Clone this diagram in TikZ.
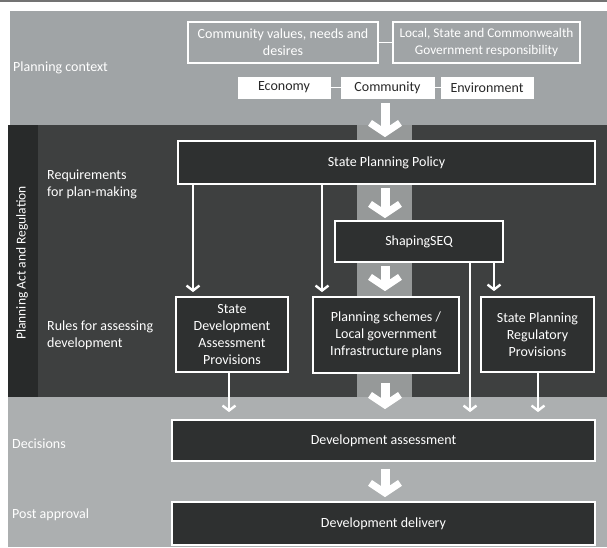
\documentclass[tikz,border=0pt]{standalone}
\usepackage{fontspec}
\setmainfont{Carlito}
\usetikzlibrary{arrows.meta,calc}
\definecolor{bandlight}{RGB}{160,164,166}
\definecolor{bandlow}{RGB}{172,175,176}
\definecolor{banddark}{RGB}{62,64,64}
\definecolor{stripdark}{RGB}{40,42,42}
\definecolor{stripmid}{RGB}{150,153,153}
\definecolor{boxdark}{RGB}{46,48,48}
\definecolor{txtdark}{RGB}{40,40,40}
\begin{document}
\begin{tikzpicture}[x=1pt,y=-1pt,
  font=\fontsize{14}{17}\selectfont,
  darkbox/.style={draw=white, fill=boxdark, line width=1.8pt, text=white, align=center, inner sep=0pt},
  lightbox/.style={draw=white, line width=1.2pt, text=white, align=center, inner sep=0pt},
  whitebox/.style={draw=white, fill=white, text=txtdark, inner sep=0pt},
  sidelabel/.style={text=white, align=left, anchor=west, inner sep=0pt},
  link/.style={draw=white, line width=1.2pt},
  thinarr/.style={draw=white, line width=2.8pt, -{Straight Barb[length=5pt,width=13pt,line width=2.4pt]}},
  bigarr/.style={draw=white, line width=9pt, -{Straight Barb[length=10pt,width=30pt,line width=7pt]}}
]
\useasboundingbox (0,0) rectangle (607,547);
\fill[white] (0,0) rectangle (607,547);
\fill[black!55] (0,0) rectangle (607,1.5);
\fill[bandlight] (10,11) rectangle (607,125);
\fill[banddark] (8,125) rectangle (607,397);
\fill[stripdark] (8,125) rectangle (38,397);
\fill[stripmid] (357,125) rectangle (412,397);
\fill[bandlow] (8,397) rectangle (607,547);

% side labels
\node[sidelabel] (lctx) at (13,68) {Planning context};
\node[sidelabel] (lreq) at (47,184) {Requirements\\for plan-making};
\node[sidelabel] (lrul) at (47,335) {Rules for assessing\\development};
\node[sidelabel] (ldec) at (12,444) {Decisions};
\node[sidelabel] (lpost) at (12,515) {Post approval};
\node[text=white, inner sep=0pt, rotate=90, font=\fontsize{13.5}{15}\selectfont] (lact) at (22,263) {Planning Act and Regulation};

% planning context boxes
\node[lightbox, minimum width=190pt, minimum height=41pt] (cv) at (283,42.5) {Community values, needs and\\desires};
\node[lightbox, minimum width=187pt, minimum height=41pt, font=\fontsize{13.3}{17}\selectfont] (gov) at (486.5,42.5) {Local, State and Commonwealth\\Government responsibility};
\node[whitebox, minimum width=92pt, minimum height=21pt] (econ) at (284,87.5) {Economy};
\node[whitebox, minimum width=93pt, minimum height=21pt] (comm) at (387.5,87.5) {Community};
\node[whitebox, minimum width=92pt, minimum height=21pt] (env) at (487,87.5) {Environment};
\draw[link] (cv.east) -- (gov.west);
\draw[link] (econ.east) -- (comm.west);
\draw[link] (comm.east) -- (env.west);

% main boxes
\node[darkbox, minimum width=417pt, minimum height=43pt] (spp) at (386.5,162.5) {State Planning Policy};
\node[darkbox, minimum width=168pt, minimum height=41pt] (seq) at (419,241.5) {ShapingSEQ};
\node[darkbox, minimum width=112pt, minimum height=75pt] (sdap) at (232,334.5) {State\\Development\\Assessment\\Provisions};
\node[darkbox, minimum width=146pt, minimum height=76pt] (ps) at (386,335) {Planning schemes /\\Local government\\Infrastructure plans};
\node[darkbox, minimum width=113pt, minimum height=75pt] (sprp) at (537.5,334.5) {State Planning\\Regulatory\\Provisions};
\node[darkbox, minimum width=423pt, minimum height=41pt] (da) at (383.5,440.5) {Development assessment};
\node[darkbox, minimum width=423pt, minimum height=43pt] (dd) at (383.5,523.5) {Development delivery};

% x positions of connectors
\coordinate (ax) at (385,0);
\coordinate (x1) at (193,0);
\coordinate (x2) at (322,0);
\coordinate (x3) at (470,0);
\coordinate (x4) at (494,0);
\coordinate (x5) at (229,0);
\coordinate (x6) at (538,0);

% big arrows along the central strip
\draw[bigarr, shorten <=5pt, shorten >=3pt] (comm.south -| ax) -- (spp.north -| ax);
\draw[bigarr, shorten <=3pt, shorten >=2pt] (spp.south -| ax) -- (seq.north -| ax);
\draw[bigarr, shorten <=3pt, shorten >=5pt] (seq.south -| ax) -- (ps.north -| ax);
\draw[bigarr, shorten <=9pt, shorten >=10pt] (ps.south -| ax) -- (da.north -| ax);
\draw[bigarr, shorten <=7pt, shorten >=4pt] (da.south -| ax) -- (dd.north -| ax);

% thin arrows
\draw[thinarr, shorten >=4pt] (spp.south -| x1) -- (sdap.north -| x1);
\draw[thinarr, shorten >=4pt] (spp.south -| x2) -- (ps.north -| x2);
\draw[thinarr, shorten >=5pt] (seq.south -| x4) -- (sprp.north -| x4);
\draw[thinarr, shorten >=7pt] (seq.south -| x3) -- (da.north -| x3);
\draw[thinarr, shorten >=7pt] (sdap.south -| x5) -- (da.north -| x5);
\draw[thinarr, shorten >=7pt] (sprp.south -| x6) -- (da.north -| x6);
\end{tikzpicture}
\end{document}
